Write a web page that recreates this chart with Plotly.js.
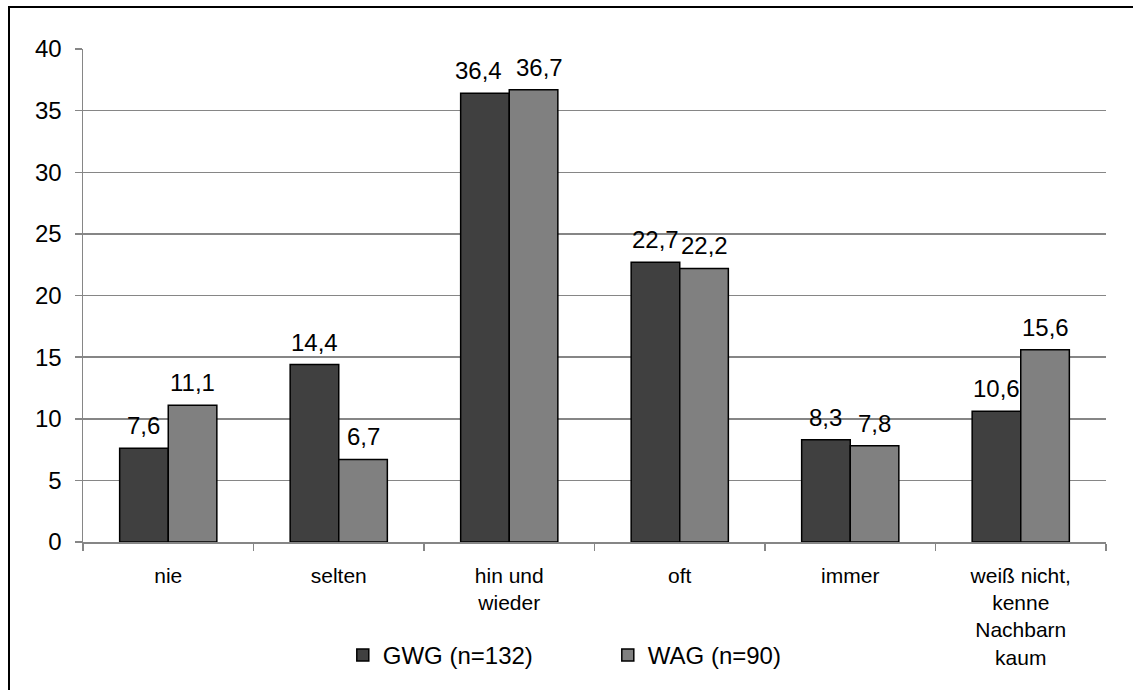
<!DOCTYPE html>
<html>
<head>
<meta charset="utf-8">
<script src="https://cdn.plot.ly/plotly-3.0.1.min.js"></script>
<style>
  html, body { margin: 0; padding: 0; background: #fff; overflow: hidden; }
  #wrap { position: relative; width: 1133px; height: 690px; }
  #chart { position: absolute; left: 0; top: 0; width: 1133px; height: 690px; }
  #frame { position: absolute; left: 8px; top: 6px; width: 1200px; height: 800px;
           border-left: 2px solid #000; border-top: 2px solid #000; pointer-events: none; }
</style>
</head>
<body>
<div id="wrap">
  <div id="chart"></div>
  <div id="frame"></div>
</div>
<script>
// Wie oft helfen Sie Ihren Nachbarn? (Anteile in %)
const categories = ['nie', 'selten', 'hin und<br>wieder', 'oft', 'immer',
                    'weiß nicht,<br>kenne<br>Nachbarn<br>kaum'];
const gwgValues = [7.6, 14.4, 36.4, 22.7, 8.3, 10.6];
const wagValues = [11.1, 6.7, 36.7, 22.2, 7.8, 15.6];
const seriesNames = ['GWG (n=132)', 'WAG (n=90)'];
const yTicks = [0, 5, 10, 15, 20, 25, 30, 35, 40];

const fmt = v => v.toFixed(1).replace('.', ',');
const font = 'Liberation Sans, Arial, sans-serif';
const FS = 24;
const BARGAP = 0.43;

function barTrace(name, values, color) {
  return {
    type: 'bar',
    name: name,
    x: categories.map((_, i) => i),
    y: values,
    marker: { color: color, line: { color: '#000', width: 1.5 } },
    hoverinfo: 'skip'
  };
}

const data = [
  barTrace(seriesNames[0], gwgValues, '#404040'),
  barTrace(seriesNames[1], wagValues, '#808080')
];

// value labels above each bar, centred on the bar within its group;
// labels of nearly equal neighbours are nudged apart so they don't touch
const half = (1 - BARGAP) / 4;
const annotations = [];
[[gwgValues, wagValues, -half, -1], [wagValues, gwgValues, half, 1]].forEach(([vals, other, off, dir]) => {
  vals.forEach((v, i) => {
    const crowded = Math.abs(v - other[i]) < 0.4;
    annotations.push({
      xref: 'x', yref: 'y', x: i + off, y: v,
      text: fmt(v), showarrow: false,
      xanchor: 'center', yanchor: 'bottom', yshift: 7,
      xshift: crowded ? dir * 6 : 0,
      font: { family: font, size: FS, color: '#000' }
    });
  });
});

const layout = {
  width: 1133,
  height: 690,
  margin: { l: 83, r: 27, t: 49, b: 146 },
  paper_bgcolor: '#fff',
  plot_bgcolor: '#fff',
  font: { family: font, size: FS, color: '#000' },
  barmode: 'group',
  bargap: BARGAP,
  bargroupgap: 0,
  showlegend: true,
  legend: {
    orientation: 'h',
    x: 0.513, xanchor: 'center',
    y: -0.23, yanchor: 'middle',
    entrywidth: 220,
    entrywidthmode: 'pixels',
    font: { family: font, size: FS, color: '#000' },
    itemclick: false
  },
  annotations: annotations,
  xaxis: {
    type: 'linear',
    range: [-0.5, categories.length - 0.5],
    tickvals: categories.map((_, i) => i),
    ticktext: categories,
    ticks: '',
    showline: true,
    linecolor: '#868686',
    linewidth: 1.5,
    showgrid: false,
    zeroline: false,
    tickfont: { family: font, size: 21, color: '#000' },
    ticklabelstandoff: 14,
    fixedrange: true,
    minor: {
      tickvals: categories.map((_, i) => i - 0.5).concat([categories.length - 0.5]),
      ticks: 'outside', ticklen: 7, tickcolor: '#868686', tickwidth: 1.5, showgrid: false
    }
  },
  yaxis: {
    range: [0, 40],
    tickvals: yTicks,
    ticktext: yTicks.map(String),
    ticks: 'outside',
    ticklen: 7,
    tickcolor: '#868686',
    tickwidth: 1.5,
    showline: true,
    linecolor: '#868686',
    linewidth: 1.5,
    showgrid: true,
    gridcolor: '#868686',
    gridwidth: 1.5,
    zeroline: false,
    tickfont: { family: font, size: FS, color: '#000' },
    ticklabelstandoff: 8,
    fixedrange: true
  }
};

Plotly.newPlot('chart', data, layout, { displayModeBar: false, staticPlot: true });
</script>
</body>
</html>
